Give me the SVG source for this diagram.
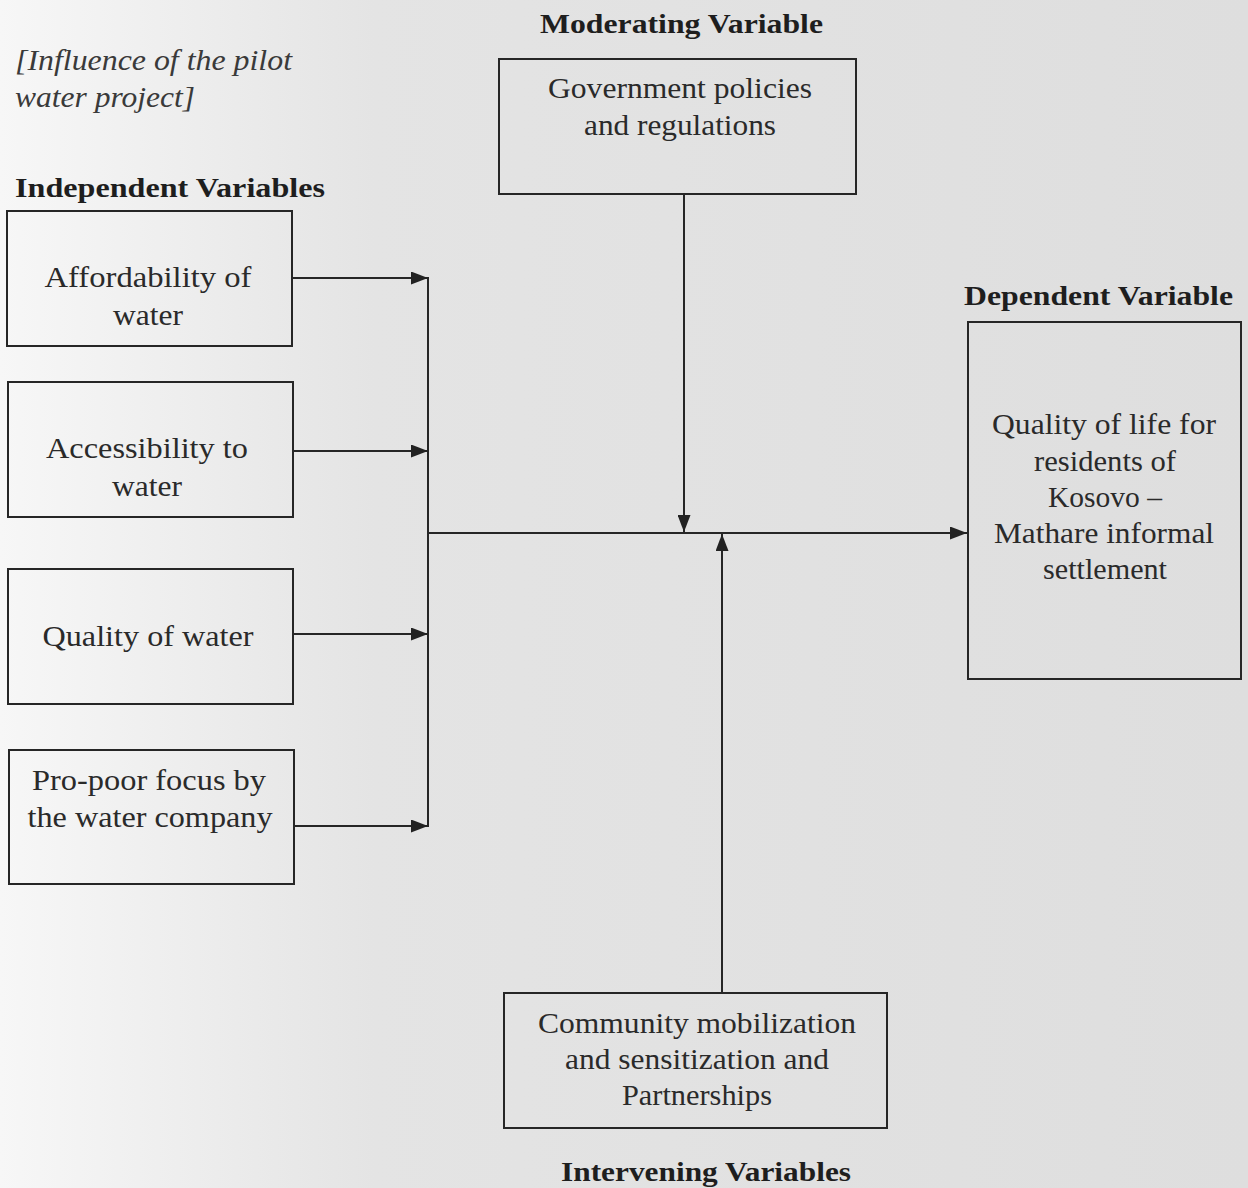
<svg xmlns="http://www.w3.org/2000/svg" width="1248" height="1188" viewBox="0 0 1248 1188">
<defs>
<linearGradient id="bg" x1="0" y1="0" x2="1248" y2="0" gradientUnits="userSpaceOnUse">
<stop offset="0" stop-color="#f7f7f7"/>
<stop offset="0.3" stop-color="#e4e4e4"/>
<stop offset="1" stop-color="#dedede"/>
</linearGradient>
<marker id="arr" viewBox="0 0 17 13" refX="17" refY="6.5" markerWidth="17" markerHeight="13" markerUnits="userSpaceOnUse" orient="auto">
<path d="M0,0 L17,6.5 L0,13 Z" fill="#222"/>
</marker>
<style>
.box{fill:none;stroke:#262626;stroke-width:2}
.ln{fill:none;stroke:#262626;stroke-width:2}
.t{font-size:29px;fill:#2a2a2a;text-anchor:middle}
.h{font-size:27px;font-weight:bold;fill:#1e1e1e}
.i{font-size:29px;font-style:italic;fill:#3a3a3a}
</style>
</defs>
<rect x="0" y="0" width="1248" height="1188" fill="url(#bg)"/>

<g font-family="Liberation Serif, Times New Roman, serif">
<g id="headings">
<text class="i" x="15" y="70" textLength="277" lengthAdjust="spacingAndGlyphs">[Influence of the pilot</text>
<text class="i" x="15" y="107" textLength="180" lengthAdjust="spacingAndGlyphs">water project]</text>
<text class="h" x="540" y="33" textLength="283" lengthAdjust="spacingAndGlyphs">Moderating Variable</text>
<text class="h" x="15" y="197" textLength="310" lengthAdjust="spacingAndGlyphs">Independent Variables</text>
<text class="h" x="964" y="305" textLength="269" lengthAdjust="spacingAndGlyphs">Dependent Variable</text>
<text class="h" x="561" y="1181" textLength="290" lengthAdjust="spacingAndGlyphs">Intervening Variables</text>
</g>

<g id="connectors">
<line class="ln" x1="428" y1="277" x2="428" y2="827"/>
<line class="ln" x1="292" y1="278" x2="428" y2="278" marker-end="url(#arr)"/>
<line class="ln" x1="293" y1="451" x2="428" y2="451" marker-end="url(#arr)"/>
<line class="ln" x1="293" y1="634" x2="428" y2="634" marker-end="url(#arr)"/>
<line class="ln" x1="294" y1="826" x2="428" y2="826" marker-end="url(#arr)"/>
<line class="ln" x1="428" y1="533" x2="967" y2="533" marker-end="url(#arr)"/>
<line class="ln" x1="684" y1="194" x2="684" y2="532" marker-end="url(#arr)"/>
<line class="ln" x1="722" y1="993" x2="722" y2="534" marker-end="url(#arr)"/>
</g>

<g id="node-affordability">
<rect class="box" x="7" y="211" width="285" height="135"/>
<text class="t" x="148" y="287" textLength="207" lengthAdjust="spacingAndGlyphs">Affordability of</text>
<text class="t" x="148" y="325" textLength="70" lengthAdjust="spacingAndGlyphs">water</text>
</g>

<g id="node-accessibility">
<rect class="box" x="8" y="382" width="285" height="135"/>
<text class="t" x="147" y="458" textLength="202" lengthAdjust="spacingAndGlyphs">Accessibility to</text>
<text class="t" x="147" y="496" textLength="70" lengthAdjust="spacingAndGlyphs">water</text>
</g>

<g id="node-quality">
<rect class="box" x="8" y="569" width="285" height="135"/>
<text class="t" x="148" y="646" textLength="211" lengthAdjust="spacingAndGlyphs">Quality of water</text>
</g>

<g id="node-propoor">
<rect class="box" x="9" y="750" width="285" height="134"/>
<text class="t" x="149" y="790" textLength="234" lengthAdjust="spacingAndGlyphs">Pro-poor focus by</text>
<text class="t" x="150" y="827" textLength="245" lengthAdjust="spacingAndGlyphs">the water company</text>
</g>

<g id="node-government">
<rect class="box" x="499" y="59" width="357" height="135"/>
<text class="t" x="680" y="98" textLength="264" lengthAdjust="spacingAndGlyphs">Government policies</text>
<text class="t" x="680" y="135" textLength="192" lengthAdjust="spacingAndGlyphs">and regulations</text>
</g>

<g id="node-dependent">
<rect class="box" x="968" y="322" width="273" height="357"/>
<text class="t" x="1104" y="434" textLength="224" lengthAdjust="spacingAndGlyphs">Quality of life for</text>
<text class="t" x="1105" y="471" textLength="142" lengthAdjust="spacingAndGlyphs">residents of</text>
<text class="t" x="1105" y="507" textLength="114" lengthAdjust="spacingAndGlyphs">Kosovo –</text>
<text class="t" x="1104" y="543" textLength="220" lengthAdjust="spacingAndGlyphs">Mathare informal</text>
<text class="t" x="1105" y="579" textLength="124" lengthAdjust="spacingAndGlyphs">settlement</text>
</g>

<g id="node-community">
<rect class="box" x="504" y="993" width="383" height="135"/>
<text class="t" x="697" y="1033" textLength="318" lengthAdjust="spacingAndGlyphs">Community mobilization</text>
<text class="t" x="697" y="1069" textLength="264" lengthAdjust="spacingAndGlyphs">and sensitization and</text>
<text class="t" x="697" y="1105" textLength="150" lengthAdjust="spacingAndGlyphs">Partnerships</text>
</g>
</g>
</svg>
